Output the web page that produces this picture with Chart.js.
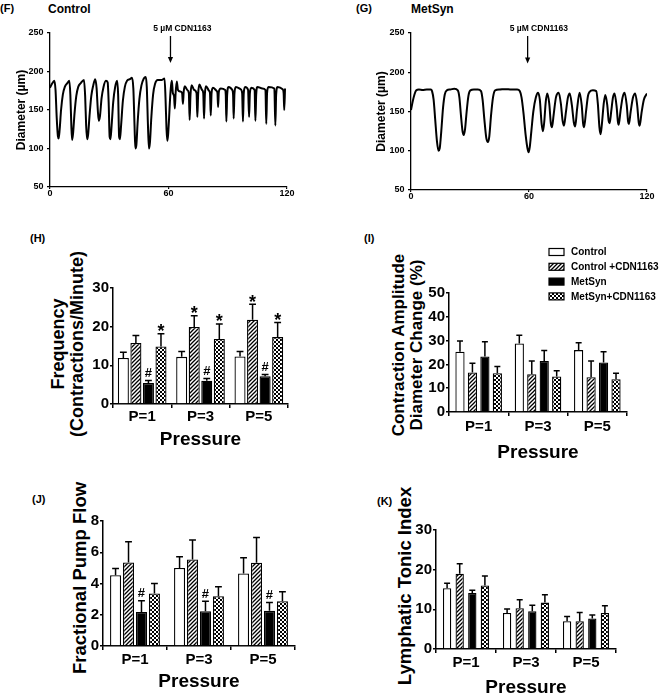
<!DOCTYPE html>
<html><head><meta charset="utf-8">
<script src="https://cdn.jsdelivr.net/npm/chart.js@4.4.1/dist/chart.umd.min.js"></script>
<style>
html,body{margin:0;padding:0;background:#fff}
body{width:669px;height:699px;position:relative;overflow:hidden;font-family:"Liberation Sans",Arial,sans-serif;color:#000}
canvas{position:absolute}
.t{position:absolute;font-weight:bold;white-space:nowrap;line-height:1}
.yt{position:absolute;font-weight:bold;white-space:nowrap;text-align:center;transform:translate(-50%,-50%) rotate(-90deg)}
</style></head><body>
<div class="t" style="left:0;top:2.7px;font-size:11px">(F)</div>
<div class="t" style="left:48px;top:3px;font-size:12px">Control</div>
<div class="t" style="left:356px;top:2.7px;font-size:11px">(G)</div>
<div class="t" style="left:411px;top:2.5px;font-size:12px">MetSyn</div>
<div class="t" style="left:30px;top:232.7px;font-size:11px">(H)</div>
<div class="t" style="left:364px;top:232.7px;font-size:11px">(I)</div>
<div class="t" style="left:32px;top:493.7px;font-size:11px">(J)</div>
<div class="t" style="left:377px;top:495.7px;font-size:11px">(K)</div>
<div class="yt" style="left:67.5px;top:344px;font-size:18px;line-height:19px">Frequency<br>(Contractions/Minute)</div>
<div class="yt" style="left:408px;top:345px;font-size:17px;line-height:18px">Contraction Amplitude<br>Diameter Change (%)</div>
<div class="yt" style="left:78.5px;top:578px;font-size:18.5px;line-height:19px">Fractional Pump Flow</div>
<div class="yt" style="left:404px;top:586px;font-size:18.5px;line-height:19px">Lymphatic Tonic Index</div>
<canvas id="cF"></canvas>
<canvas id="cG"></canvas>
<canvas id="cH"></canvas>
<canvas id="cI"></canvas>
<canvas id="cJ"></canvas>
<canvas id="cK"></canvas>
<script>
// ---------------- DATA ----------------
// Trace (F) Control: time (s) and diameter (µm)
const traceControlTime = [0,1.0,2.2,2.8,3.4,4.0,4.4,4.9,5.6,6.5,7.5,8.8,9.8,10.3,10.8,11.2,11.7,12.4,13.3,14.3,15.6,17.2,17.8,18.3,18.8,19.3,20.0,20.9,21.9,22.9,23.6,24.2,24.7,25.3,26.1,27.1,28.3,29.2,29.7,30.2,30.6,31.2,32.0,33.0,34.0,34.5,35.0,35.4,36.0,36.9,37.9,39.0,40.5,41.5,42.2,42.8,43.2,43.7,44.4,45.3,46.3,47.5,48.5,49.0,49.6,50.1,50.6,51.3,52.2,53.2,54.5,56.5,58.0,58.5,59.0,59.4,59.8,60.3,60.8,61.3,61.7,62.2,62.8,63.2,63.6,64.2,64.8,66.0,66.9,67.3,67.7,68.3,69.5,70.3,70.7,71.1,71.7,73.0,74.2,74.6,75.0,75.6,77.0,77.6,78.0,78.4,79.0,80.5,81.0,81.4,81.8,82.5,84.3,84.8,85.1,85.5,86.5,88.7,89.0,89.3,89.7,90.4,92.3,92.7,93.0,93.4,94.1,96.5,97.3,97.7,98.1,98.8,100.3,100.8,101.2,102.0,103.6,104.0,104.4,105.0,107.5,109.1,109.5,109.9,110.6,113.6,114.1,114.5,115.2,117.8,118.3,118.6,119.0];
const traceControlDiam = [179,184,188,176,140,116,113,125,150,170,180,185,188,170,130,111,120,145,168,180,185,189,168,130,112,118,142,168,182,190,178,150,136,142,165,180,188,186,160,115,112,130,160,180,188,170,115,112,130,162,180,188,190,192,178,130,100,104,135,165,182,191,193,180,130,100,108,140,170,184,189,189,191,165,125,110,118,140,165,182,188,172,168,152,172,187,176,174,172,158,174,181,176,172,137,168,182,176,172,141,170,183,176,172,139,170,181,175,172,143,172,179,175,172,154,174,178,176,170,135,170,180,176,170,139,172,180,177,172,135,172,180,176,141,172,179,176,136,170,180,178,176,132,172,180,178,130,170,180,177,172,150,178];
// Trace (G) MetSyn
const traceMetSynTime = [0,0.8,1.8,2.7,4,6,8,10,10.7,11.5,12.3,13.2,14.0,14.6,15.4,16.3,17.2,18.2,20,22,23.8,24.6,25.4,26.2,26.8,27.5,28.3,29.2,30.2,32,34,35.6,36.4,37.3,38.3,39.1,39.8,40.7,41.7,42.8,45,48,51,54,55.3,56.2,57.2,58.3,59.3,59.8,60.4,61.2,62.2,63.5,64.6,65.5,66.4,67.1,67.8,68.5,69.3,70.3,71.1,71.7,72.5,73.7,75.1,76.2,77.1,77.8,78.7,79.8,80.7,81.8,82.8,83.5,84.4,85.7,86.8,87.5,88.0,89.0,90.0,90.8,92.5,94.2,95.0,95.8,96.4,97.1,98.0,98.8,99.8,100.5,101.0,101.8,102.7,103.5,104.6,105.2,105.6,106.5,107.6,108.6,109.7,110.4,110.8,111.7,112.9,114.0,115.0,115.8,116.3,117.2,118.4,120];
const traceMetSynDiam = [152,162,172,177,178,177.5,178,178,176,165,140,112,100,103,125,155,172,177,178,179,177,168,145,125,120,128,150,170,177,178,178,176,165,140,116,111,118,145,168,177,178,178.5,178,178,176,168,148,120,102,98,105,125,150,168,174,165,135,125,138,162,173,160,135,130,145,168,174,160,138,132,148,168,173,158,136,131,152,174,158,135,130,150,170,175,177,176,160,130,121,135,160,171,158,138,135,150,168,173,155,137,133,150,168,174,158,137,134,150,168,173,158,136,132,148,165,173];

// Bar panels
const categories = ['P=1', 'P=3', 'P=5'];
const seriesNames = ['Control', 'Control +CDN1163', 'MetSyn', 'MetSyn+CDN1163'];

// (H) Frequency (contractions/minute): mean and SEM
const freqControl = [11.9, 12.2, 12.3];
const freqControlCdn = [15.8, 19.9, 21.8];
const freqMetSyn = [5.4, 6.0, 7.2];
const freqMetSynCdn = [14.9, 16.8, 17.3];
const freqControlErr = [1.5, 1.4, 1.3];
const freqControlCdnErr = [1.9, 2.9, 4.0];
const freqMetSynErr = [0.7, 0.6, 0.4];
const freqMetSynCdnErr = [3.3, 3.9, 3.8];
const freqMarksControlCdn = ['', '*', '*'];
const freqMarksMetSyn = ['#', '#', '#'];
const freqMarksMetSynCdn = ['*', '*', '*'];

// (I) Contraction amplitude (%)
const ampControl = [25.3, 28.8, 26.0];
const ampControlCdn = [16.6, 15.9, 14.6];
const ampMetSyn = [23.3, 21.4, 20.8];
const ampMetSynCdn = [16.3, 14.9, 13.8];
const ampControlErr = [4.5, 3.5, 3.1];
const ampControlCdnErr = [3.9, 5.5, 6.8];
const ampMetSynErr = [6.2, 4.4, 4.5];
const ampMetSynCdnErr = [2.8, 2.4, 2.5];

// (J) Fractional pump flow
const fpfControl = [4.53, 5.0, 4.64];
const fpfControlCdn = [5.35, 5.54, 5.33];
const fpfMetSyn = [2.18, 2.22, 2.25];
const fpfMetSynCdn = [3.36, 3.19, 2.87];
const fpfControlErr = [0.43, 0.71, 1.01];
const fpfControlCdnErr = [1.32, 1.24, 1.62];
const fpfMetSynErr = [0.71, 0.65, 0.53];
const fpfMetSynCdnErr = [0.64, 0.60, 0.60];
const fpfMarksMetSyn = ['#', '#', '#'];

// (K) Lymphatic tonic index
const ltiControl = [15.3, 9.1, 7.0];
const ltiControlCdn = [19.0, 10.3, 7.0];
const ltiMetSyn = [14.1, 9.5, 7.7];
const ltiMetSynCdn = [16.0, 11.7, 9.1];
const ltiControlErr = [1.3, 1.0, 1.2];
const ltiControlCdnErr = [2.5, 2.1, 2.2];
const ltiMetSynErr = [0.7, 1.5, 0.9];
const ltiMetSynCdnErr = [2.4, 2.0, 1.8];

const noteText = '5 µM CDN1163';

// ---------------- RENDERING ----------------
const FONT = '"Liberation Sans", Arial, sans-serif';
Chart.defaults.font.family = FONT;
Chart.defaults.font.weight = 'bold';
Chart.defaults.color = '#000';
Chart.defaults.animation = false;

function place(id, r) {
  const c = document.getElementById(id);
  c.width = r.w; c.height = r.h;
  c.style.left = r.left + 'px'; c.style.top = r.top + 'px';
  c.style.width = r.w + 'px'; c.style.height = r.h + 'px';
  return c;
}

function makeFills() {
  const mk = (draw) => { const c = document.createElement('canvas'); c.width = 4; c.height = 4; const g = c.getContext('2d'); g.fillStyle = '#fff'; g.fillRect(0,0,4,4); draw(g); return g.createPattern(c, 'repeat'); };
  const hatch = mk(g => { g.strokeStyle = '#000'; g.lineWidth = 1.3; g.beginPath(); g.moveTo(-1,5); g.lineTo(5,-1); g.moveTo(-1,1); g.lineTo(1,-1); g.moveTo(3,5); g.lineTo(5,3); g.stroke(); });
  const check = mk(g => { g.fillStyle = '#000'; g.fillRect(0,0,2,2); g.fillRect(2,2,2,2); });
  return ['#ffffff', hatch, '#000000', check];
}
const fills = makeFills();

const notePlugin = {
  id: 'arrowNote',
  afterDraw(chart, args, o) {
    const {ctx, chartArea, scales: {x, y}} = chart;
    const ax = x.getPixelForValue(o.arrowAt), tx = x.getPixelForValue(o.textAt);
    const y0 = chartArea.top + 3, y1 = y.getPixelForValue(o.tipAt);
    ctx.save();
    ctx.fillStyle = '#000'; ctx.strokeStyle = '#000'; ctx.lineWidth = 1.3;
    ctx.beginPath(); ctx.moveTo(ax, y0); ctx.lineTo(ax, y1 - 5); ctx.stroke();
    ctx.beginPath(); ctx.moveTo(ax - 2.6, y1 - 6); ctx.lineTo(ax + 2.6, y1 - 6); ctx.lineTo(ax, y1); ctx.closePath(); ctx.fill();
    ctx.font = 'bold 8.5px ' + FONT; ctx.textAlign = 'center'; ctx.textBaseline = 'alphabetic';
    ctx.fillText(o.text, tx, chartArea.top - 2.3);
    ctx.restore();
  }
};

function traceChart(id, r, a, times, diams, yTitleX, note) {
  const cv = place(id, r);
  return new Chart(cv, {
    type: 'line',
    data: { datasets: [{ data: times.map((t, i) => ({x: t, y: diams[i]})), borderColor: '#000', borderWidth: 2, pointRadius: 0, cubicInterpolationMode: 'monotone', fill: false }] },
    options: {
      responsive: false, animation: false, events: [],
      layout: { padding: { left: 0, top: a.top - r.top, right: r.left + r.w - a.right, bottom: 0 } },
      plugins: { legend: {display: false}, tooltip: {enabled: false}, arrowNote: note },
      scales: {
        x: { type: 'linear', min: 0, max: 120,
          ticks: { stepSize: 60, font: {size: 9, weight: 'bold', lineHeight: 1}, padding: 0, maxRotation: 0, autoSkip: false },
          grid: { drawOnChartArea: false, drawTicks: true, tickLength: 2, color: '#000', lineWidth: 1.2 },
          border: { color: '#000', width: 1.3 },
          afterFit(s) { s.height = r.top + r.h - a.bottom; } },
        y: { type: 'linear', min: 50, max: 250,
          ticks: { stepSize: 50, font: {size: 9, weight: 'bold'}, padding: 3.5 },
          grid: { drawOnChartArea: false, drawTicks: true, tickLength: 3, color: '#000', lineWidth: 1.2 },
          border: { color: '#000', width: 1.3 },
          title: { display: true, text: 'Diameter (µm)', font: {size: 12, weight: 'bold', lineHeight: 1.2}, padding: {top: yTitleX - r.left - 7.2, bottom: 0} },
          afterFit(s) { s.width = a.left - r.left; } }
      }
    },
    plugins: [notePlugin]
  });
}

const errPlugin = {
  id: 'errBars',
  afterDatasetsDraw(chart) {
    const {ctx} = chart; const ys = chart.scales.y;
    chart.data.datasets.forEach((ds, i) => {
      const meta = chart.getDatasetMeta(i);
      meta.data.forEach((bar, j) => {
        const yTop = ys.getPixelForValue(ds.data[j] + ds.errors[j]);
        const capW = Math.max(6, bar.width * 0.62);
        ctx.save();
        ctx.strokeStyle = '#000'; ctx.lineWidth = 1.5;
        ctx.beginPath(); ctx.moveTo(bar.x, bar.y); ctx.lineTo(bar.x, yTop);
        ctx.moveTo(bar.x - capW / 2, yTop); ctx.lineTo(bar.x + capW / 2, yTop); ctx.stroke();
        const m = ds.marks ? ds.marks[j] : '';
        if (m) {
          ctx.fillStyle = '#000'; ctx.textAlign = 'center'; ctx.textBaseline = 'alphabetic';
          if (m === '*') { ctx.font = 'bold 18px ' + FONT; ctx.fillText(m, bar.x, yTop + 3.5); }
          else { ctx.font = 'bold 13px ' + FONT; ctx.fillText(m, bar.x, yTop - 3.5); }
        }
        ctx.restore();
      });
    });
  }
};

const legendPlugin = {
  id: 'boxLegend',
  afterDraw(chart, args, o) {
    if (!o || !o.show) return;
    const ctx = chart.ctx;
    ctx.save();
    chart.data.datasets.forEach((ds, k) => {
      const y = o.y0 + k * o.dy;
      ctx.fillStyle = ds.backgroundColor; ctx.fillRect(o.x, y - 3.5, 15, 7);
      ctx.strokeStyle = '#000'; ctx.lineWidth = 1.2; ctx.strokeRect(o.x, y - 3.5, 15, 7);
      ctx.fillStyle = '#000'; ctx.font = 'bold 10px ' + FONT; ctx.textBaseline = 'middle'; ctx.textAlign = 'left';
      ctx.fillText(ds.label, o.tx, y + 0.5);
    });
    ctx.restore();
  }
};

function barChart(id, r, a, cfg) {
  const cv = place(id, r);
  const datasets = cfg.series.map((s, k) => ({
    label: seriesNames[k], data: s[0], errors: s[1], marks: s[2] || null,
    backgroundColor: fills[k], borderColor: '#000', borderWidth: 1.3,
    categoryPercentage: cfg.cat, barPercentage: cfg.bar
  }));
  return new Chart(cv, {
    type: 'bar',
    data: { labels: categories, datasets },
    options: {
      responsive: false, animation: false, events: [],
      layout: { padding: { left: 0, top: a.top - r.top, right: r.left + r.w - a.right, bottom: 0 } },
      plugins: { legend: {display: false}, tooltip: {enabled: false}, boxLegend: cfg.legend || {show: false} },
      scales: {
        x: { type: 'category', offset: true,
          ticks: { font: {size: 15, weight: 'bold', lineHeight: 1.2}, padding: cfg.xpad, maxRotation: 0, autoSkip: false },
          grid: { offset: true, drawOnChartArea: false, drawTicks: true, tickLength: 4, color: '#000', lineWidth: 1.5 },
          border: { color: '#000', width: 1.5 },
          title: { display: true, text: 'Pressure', font: {size: 19, weight: 'bold', lineHeight: 1.2}, padding: {top: 0, bottom: r.top + r.h - cfg.pressY - 11.4} },
          afterFit(s) { s.height = r.top + r.h - a.bottom; } },
        y: { type: 'linear', min: 0, max: cfg.max,
          ticks: { stepSize: cfg.step, font: {size: 15, weight: 'bold'}, padding: 1 },
          grid: { drawOnChartArea: false, drawTicks: true, tickLength: 3, color: '#000', lineWidth: 1.5 },
          border: { color: '#000', width: 1.5 },
          afterFit(s) { s.width = a.left - r.left; } }
      }
    },
    plugins: [errPlugin, legendPlugin]
  });
}

traceChart('cF', {left: 0, top: 0, w: 334, h: 205}, {left: 50, top: 33, right: 287, bottom: 187},
  traceControlTime, traceControlDiam, 22, {arrowAt: 61, textAt: 67, tipAt: 211, text: noteText});
traceChart('cG', {left: 334, top: 0, w: 335, h: 205}, {left: 411, top: 33, right: 647, bottom: 190},
  traceMetSynTime, traceMetSynDiam, 382, {arrowAt: 59.3, textAt: 65, tipAt: 211, text: noteText});

barChart('cH', {left: 0, top: 215, w: 334, h: 240}, {left: 113, top: 288, right: 288, bottom: 404}, {
  max: 30, step: 10, cat: 0.86, bar: 0.88, xpad: 0, pressY: 440,
  series: [[freqControl, freqControlErr], [freqControlCdn, freqControlCdnErr, freqMarksControlCdn], [freqMetSyn, freqMetSynErr, freqMarksMetSyn], [freqMetSynCdn, freqMetSynCdnErr, freqMarksMetSynCdn]]
});
barChart('cI', {left: 334, top: 215, w: 335, h: 250}, {left: 449, top: 293, right: 627, bottom: 412}, {
  max: 50, step: 10, cat: 0.84, bar: 0.74, xpad: 2, pressY: 453,
  legend: {show: true, x: 215, tx: 237, y0: 37, dy: 14.8},
  series: [[ampControl, ampControlErr], [ampControlCdn, ampControlCdnErr], [ampMetSyn, ampMetSynErr], [ampMetSynCdn, ampMetSynCdnErr]]
});
barChart('cJ', {left: 0, top: 455, w: 334, h: 244}, {left: 103, top: 521, right: 295, bottom: 646}, {
  max: 8, step: 2, cat: 0.81, bar: 0.85, xpad: 1, pressY: 682,
  series: [[fpfControl, fpfControlErr], [fpfControlCdn, fpfControlCdnErr], [fpfMetSyn, fpfMetSynErr, fpfMarksMetSyn], [fpfMetSynCdn, fpfMetSynCdnErr]]
});
barChart('cK', {left: 334, top: 455, w: 335, h: 244}, {left: 436, top: 530, right: 616, bottom: 649}, {
  max: 30, step: 10, cat: 0.84, bar: 0.66, xpad: 1, pressY: 688,
  series: [[ltiControl, ltiControlErr], [ltiControlCdn, ltiControlCdnErr], [ltiMetSyn, ltiMetSynErr], [ltiMetSynCdn, ltiMetSynCdnErr]]
});
</script>
</body></html>
